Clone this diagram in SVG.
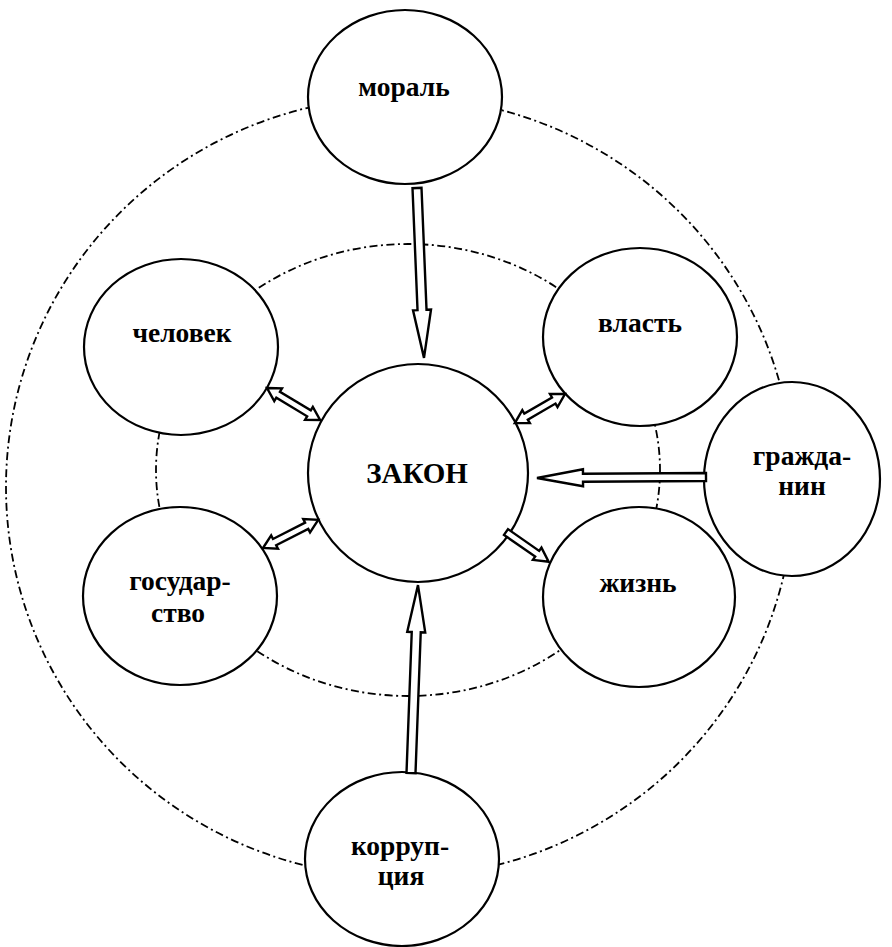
<svg xmlns="http://www.w3.org/2000/svg" width="892" height="947" viewBox="0 0 892 947">
<style>
.ring{fill:none;stroke:#000;stroke-width:1.8;stroke-dasharray:8 3.5 2 3.5}
.node{fill:#fff;stroke:#000;stroke-width:2.2}
.lbl{font-family:"Liberation Serif","Times New Roman",serif;font-weight:bold;font-size:27.5px;text-anchor:middle;fill:#000}
.big{font-size:29px}
.arr{fill:#fff;stroke:#000;stroke-width:2.4;stroke-linejoin:miter}
</style>
<rect x="0" y="0" width="892" height="947" fill="#fff"/>
<g id="rings">
<ellipse class="ring" cx="400" cy="487" rx="394" ry="390"/>
<ellipse class="ring" cx="408" cy="470" rx="252" ry="226"/>
</g>
<g id="node-moral"><ellipse class="node" cx="405" cy="97" rx="97" ry="87"/><text class="lbl" x="404" y="96">мораль</text></g>
<g id="node-chelovek"><ellipse class="node" cx="181" cy="347" rx="97" ry="88"/><text class="lbl" x="182" y="342">человек</text></g>
<g id="node-vlast"><ellipse class="node" cx="640" cy="337" rx="97" ry="89"/><text class="lbl" x="640" y="332">власть</text></g>
<g id="node-zakon"><ellipse class="node" cx="418" cy="473" rx="110" ry="109"/><text class="lbl big" x="417" y="483">ЗАКОН</text></g>
<g id="node-grazhdanin"><ellipse class="node" cx="792" cy="479" rx="88" ry="97"/><text class="lbl" x="802" y="465">гражда-</text><text class="lbl" x="802" y="495">нин</text></g>
<g id="node-gosudarstvo"><ellipse class="node" cx="180" cy="596" rx="97" ry="89"/><text class="lbl" x="180" y="590">государ-</text><text class="lbl" x="178" y="622">ство</text></g>
<g id="node-zhizn"><ellipse class="node" cx="639" cy="597" rx="96" ry="90"/><text class="lbl" x="638" y="592">жизнь</text></g>
<g id="node-korrupciya"><ellipse class="node" cx="402" cy="859" rx="97" ry="87"/><text class="lbl" x="400" y="855">корруп-</text><text class="lbl" x="401" y="885">ция</text></g>
<g id="connectors">
<g transform="translate(417,188) rotate(87.64)"><path class="arr" d="M0,-4.5 L122,-4.5 L122,-9 L170,0 L122,9 L122,4.5 L0,4.5 Z"/></g>
<g transform="translate(411,773) rotate(-87.87)"><path class="arr" d="M0,-4.5 L141,-4.5 L141,-9 L188,0 L141,9 L141,4.5 L0,4.5 Z"/></g>
<g transform="translate(706,477) rotate(179.66)"><path class="arr" d="M0,-4 L123,-4 L123,-8.5 L169,0 L123,8.5 L123,4 L0,4 Z"/></g>
<g transform="translate(267,388) rotate(31.1)"><path class="arr" d="M0,0 L13,-7.5 L13,-3.5 L49,-3.5 L49,-7.5 L62,0 L49,7.5 L49,3.5 L13,3.5 L13,7.5 Z"/></g>
<g transform="translate(565,394) rotate(149.9)"><path class="arr" d="M0,0 L13,-7.5 L13,-3.5 L45,-3.5 L45,-7.5 L58,0 L45,7.5 L45,3.5 L13,3.5 L13,7.5 Z"/></g>
<g transform="translate(263,548) rotate(-27)"><path class="arr" d="M0,0 L13,-7.5 L13,-3.5 L49,-3.5 L49,-7.5 L62,0 L49,7.5 L49,3.5 L13,3.5 L13,7.5 Z"/></g>
<g transform="translate(506,532) rotate(34.9)"><path class="arr" d="M0,-3.5 L38,-3.5 L38,-7.5 L52,0 L38,7.5 L38,3.5 L0,3.5 Z"/></g>
</g>
</svg>
